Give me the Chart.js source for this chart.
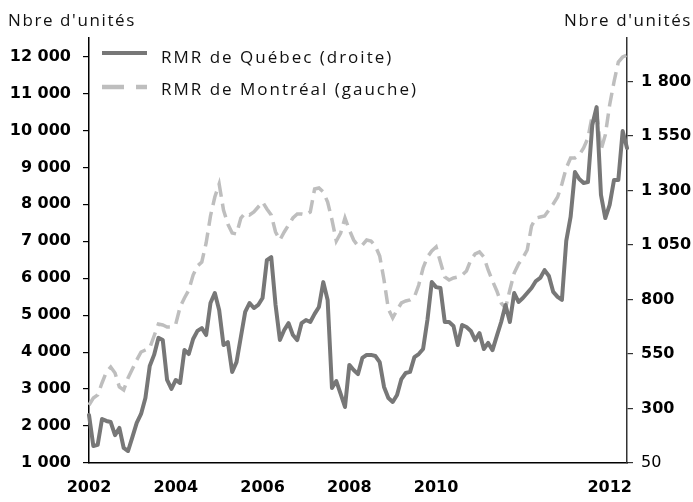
<!DOCTYPE html>
<html>
<head>
<meta charset="utf-8">
<script src="https://cdn.jsdelivr.net/npm/chart.js@4/dist/chart.umd.min.js"></script>
<style>
html,body{margin:0;padding:0;background:#fff;}
canvas{display:block;}
</style>
</head>
<body>
<canvas id="c" width="693" height="502"></canvas>
<script>
// ---- Data (monthly) ----
const quebecLabel = "RMR de Québec (droite)";
const montrealLabel = "RMR de Montréal (gauche)";
const axisTitle = "Nbre d'unités";

const quebec = [
 270,128,133,252,243,238,178,211,119,105,
 169,234,275,348,495,546,624,614,431,390,
 431,417,568,550,619,656,669,637,784,830,
 752,591,605,468,513,628,743,784,761,775,
 807,981,995,775,614,660,692,637,614,692,
 706,697,734,766,880,798,394,426,367,307,
 500,477,458,532,546,546,541,513,399,348,
 330,362,435,463,468,536,550,573,706,880,
 857,853,697,697,679,591,683,674,656,614,
 646,573,601,568,633,697,775,697,830,789,
 807,830,853,885,899,935,908,835,812,798,
 1069,1179,1385,1353,1335,1339,1601,1683,1280,1174,
 1234,1348,1348,1573,1495
];
const montreal = [
 2569,2759,2840,3165,3462,3598,3435,3057,2975,3300,
 3544,3787,4004,4058,4112,4437,4761,4734,4680,4680,
 4761,5221,5465,5681,6087,6331,6439,6953,7684,8198,
 8550,7846,7467,7224,7197,7630,7765,7711,7792,7927,
 8063,7873,7711,7251,7034,7251,7440,7630,7738,7738,
 7711,7792,8414,8442,8333,8063,7576,7007,7224,7630,
 7305,7034,6872,6899,7034,7007,6872,6601,5952,5167,
 4924,5140,5330,5384,5411,5492,5817,6277,6574,6737,
 6845,6439,6033,5952,6006,6033,6087,6196,6493,6656,
 6710,6574,6223,5925,5654,5330,5194,5681,6141,6385,
 6547,6764,7413,7630,7657,7684,7846,8009,8198,8550,
 8983,9253,9253,9334,9524,9795,10417,10471,9470,9876,
 10687,11310,11851,11986,12040
];
const xTickLabels = ['2002','2004','2006','2008','2010','2012'];
const xTickIndex  = [0,20,40,60,80,120];
const leftTickValues  = [1000,2000,3000,4000,5000,6000,7000,8000,9000,10000,11000,12000];
const rightTickValues = [50,300,550,800,1050,1300,1550,1800];
const leftRange  = [1000, 12500];
const rightRange = [50, 2000];

const categories = quebec.map((_, i) => i);

const fmt = v => String(v).replace(/\B(?=(\d{3})+(?!\d))/g, ' ');
const tickFont = {family:'"DejaVu Sans", sans-serif', size:16, weight:'bold'};
const QCOL = '#777777', MCOL = '#bebebe';

const extras = {
  id:'extras',
  afterDraw(chart){
    const ctx = chart.ctx;
    ctx.save();
    ctx.fillStyle = '#111';
    ctx.font = '17px "Open Sans", sans-serif';
    ctx.textBaseline = 'alphabetic';
    ctx.letterSpacing = '1.6px';
    ctx.textAlign = 'left';
    ctx.fillText(axisTitle, 8, 26);
    ctx.textAlign = 'right';
    ctx.fillText(axisTitle, 692, 26);
    // legend
    const items = [
      {text: chart.data.datasets[0].label, color: QCOL, dash: [], y: 53, ty: 63, w: 4},
      {text: chart.data.datasets[1].label, color: MCOL, dash: [22, 12], y: 87, ty: 95, w: 4.5}
    ];
    ctx.letterSpacing = '2px';
    ctx.textAlign = 'left';
    items.forEach(it => {
      ctx.beginPath();
      ctx.setLineDash(it.dash);
      ctx.strokeStyle = it.color;
      ctx.lineWidth = it.w;
      ctx.moveTo(102, it.y);
      ctx.lineTo(147, it.y);
      ctx.stroke();
      ctx.setLineDash([]);
      ctx.fillStyle = '#111';
      ctx.fillText(it.text, 161, it.ty);
    });
    ctx.restore();
  }
};

new Chart(document.getElementById('c'), {
  type:'line',
  data:{
    labels: categories,
    datasets:[
      {label: quebecLabel, data: quebec, yAxisID:'y1', borderColor: QCOL, borderWidth:4,
       pointRadius:0, tension:0, borderJoinStyle:'round', borderCapStyle:'round', fill:false},
      {label: montrealLabel, data: montreal, yAxisID:'y', borderColor: MCOL, borderWidth:3.5,
       borderDash:[14,7], pointRadius:0, tension:0, fill:false}
    ]
  },
  options:{
    responsive:false,
    animation:false,
    devicePixelRatio:1,
    layout:{padding:{top:38, left:0, right:0, bottom:0}},
    plugins:{legend:{display:false}, tooltip:{enabled:false}},
    scales:{
      x:{
        type:'category', offset:false,
        grid:{display:true, drawOnChartArea:false, drawTicks:false},
        border:{display:true, color:'#000', width:1.5},
        ticks:{autoSkip:false, maxRotation:0, minRotation:0, padding:15, color:'#000', font:tickFont,
          callback:(v, i) => { const k = xTickIndex.indexOf(i); return k >= 0 ? xTickLabels[k] : ''; }},
        afterFit(s){ s.height = 39; }
      },
      y:{
        type:'linear', position:'left', min:leftRange[0], max:leftRange[1],
        grid:{display:true, drawOnChartArea:false, drawTicks:true, tickLength:6, color:'#000', lineWidth:1.2},
        border:{display:true, color:'#000', width:1.5},
        ticks:{padding:12, color:'#000', font:tickFont, callback:v => fmt(v)},
        afterBuildTicks(s){ s.ticks = leftTickValues.map(v => ({value:v})); },
        afterFit(s){ s.width = 89; }
      },
      y1:{
        type:'linear', position:'right', min:rightRange[0], max:rightRange[1],
        grid:{display:true, drawOnChartArea:false, drawTicks:true, tickLength:6, color:'#333', lineWidth:1.2},
        border:{display:true, color:'#333', width:1.5},
        ticks:{padding:8, color:'#000',
          font:(c) => ({family:tickFont.family, size:16, weight:(c.tick && c.tick.value === rightTickValues[0]) ? 'normal' : 'bold'}),
          callback:v => fmt(v)},
        afterBuildTicks(s){ s.ticks = rightTickValues.map(v => ({value:v})); },
        afterFit(s){ s.width = 66; }
      }
    }
  },
  plugins:[extras]
});
</script>
</body>
</html>
